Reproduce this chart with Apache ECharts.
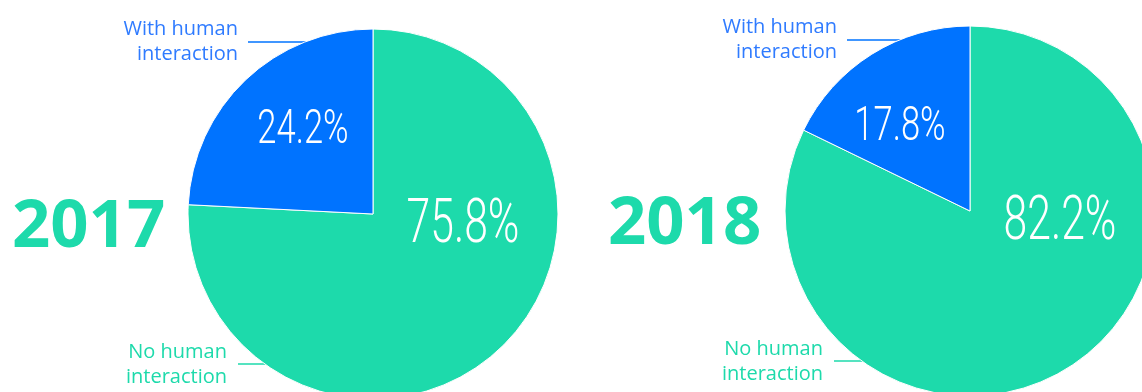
<!DOCTYPE html>
<html>
<head>
<meta charset="utf-8">
<script src="https://cdn.jsdelivr.net/npm/echarts@6/dist/echarts.min.js"></script>
<style>
  html, body { margin: 0; padding: 0; background: #ffffff; }
  #chart { width: 1142px; height: 392px; }
</style>
</head>
<body>
<div id="chart"></div>
<script>
// Share of sessions, with vs. without human interaction, per year
const years = ['2017', '2018'];
const categories = ['No human interaction', 'With human interaction'];
const noHuman = [75.8, 82.2];
const withHuman = [24.2, 17.8];
const legendLabels = ['With human\ninteraction', 'No human\ninteraction'];

const GREEN = '#1ddaab';
const BLUE = '#0073ff';
const BLUE_TEXT = '#2f7bff';

// Pie placement
const pies = [
  { center: [373, 214], radius: 185, yearX: 12, topLabel: [238, 42], bottomLabel: [227, 365] },
  { center: [970, 211], radius: 185, yearX: 608, topLabel: [837, 40], bottomLabel: [823, 362] }
];
// Percent label offsets from each pie's centre
const blueOffset = [-70, -83];
const greenOffset = [90, 13];

const series = years.map((y, i) => ({
  type: 'pie',
  name: y,
  center: pies[i].center,
  radius: [0, pies[i].radius],
  startAngle: 90,
  clockwise: true,
  silent: true,
  label: { show: false },
  labelLine: { show: false },
  itemStyle: { borderColor: '#ffffff', borderWidth: 1 },
  data: [
    { name: categories[0], value: noHuman[i], itemStyle: { color: GREEN } },
    { name: categories[1], value: withHuman[i], itemStyle: { color: BLUE } }
  ]
}));

const graphics = [];
years.forEach((y, i) => {
  const p = pies[i];
  const [cx, cy] = p.center;
  // leader lines sit beneath the pies
  graphics.push({
    type: 'line', z: 0,
    shape: { x1: p.topLabel[0] + 10, y1: p.topLabel[1], x2: cx, y2: p.topLabel[1] },
    style: { stroke: BLUE, lineWidth: 1.5 }
  });
  graphics.push({
    type: 'line', z: 0,
    shape: { x1: p.bottomLabel[0] + 11, y1: p.bottomLabel[1] - 1, x2: cx, y2: p.bottomLabel[1] - 1 },
    style: { stroke: GREEN, lineWidth: 1.5 }
  });
  graphics.push({
    type: 'text', z: 10,
    x: p.topLabel[0], y: p.topLabel[1],
    style: {
      text: legendLabels[0], fill: BLUE_TEXT, fontFamily: 'Open Sans', fontSize: 20,
      lineHeight: 25, align: 'right', verticalAlign: 'middle'
    }
  });
  graphics.push({
    type: 'text', z: 10,
    x: p.bottomLabel[0], y: p.bottomLabel[1],
    style: {
      text: legendLabels[1], fill: GREEN, fontFamily: 'Open Sans', fontSize: 20,
      lineHeight: 25, align: 'right', verticalAlign: 'middle'
    }
  });
  // year heading
  graphics.push({
    type: 'text', z: 10,
    x: p.yearX, y: cy + 14,
    style: {
      text: y, fill: GREEN, fontFamily: 'Open Sans', fontWeight: 'bold', fontSize: 67,
      align: 'left', verticalAlign: 'middle'
    }
  });
  // percentage figures inside the slices
  graphics.push({
    type: 'text', z: 20, scaleX: 0.72,
    x: cx + blueOffset[0], y: cy + blueOffset[1],
    style: {
      text: withHuman[i].toFixed(1) + '%', fill: '#ffffff', fontFamily: 'Roboto',
      fontWeight: 300, fontSize: 48, align: 'center', verticalAlign: 'middle'
    }
  });
  graphics.push({
    type: 'text', z: 20, scaleX: 0.7,
    x: cx + greenOffset[0], y: cy + greenOffset[1],
    style: {
      text: noHuman[i].toFixed(1) + '%', fill: '#ffffff', fontFamily: 'Roboto',
      fontWeight: 300, fontSize: 61, align: 'center', verticalAlign: 'middle'
    }
  });
});

const chart = echarts.init(document.getElementById('chart'), null, { renderer: 'canvas' });
chart.setOption({
  backgroundColor: '#ffffff',
  animation: false,
  series: series,
  graphic: graphics
});
</script>
</body>
</html>
